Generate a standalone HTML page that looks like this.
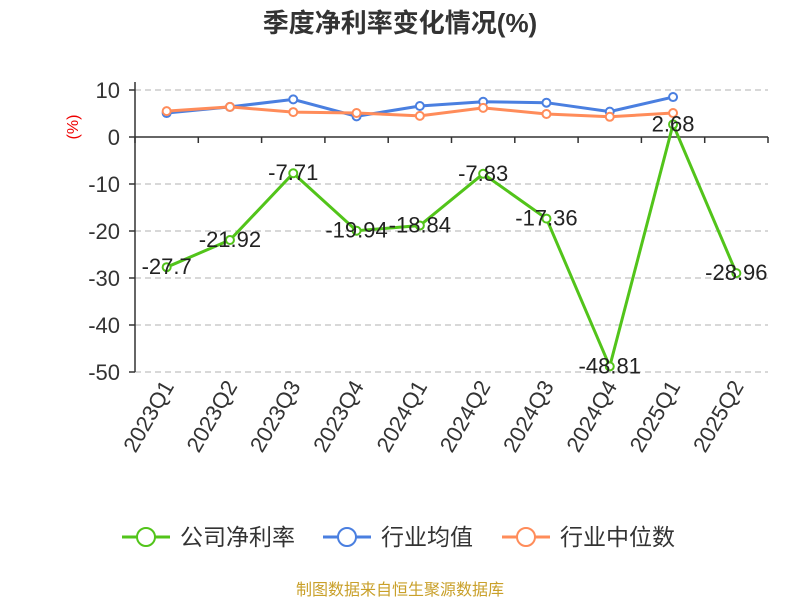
<!DOCTYPE html>
<html><head><meta charset="utf-8"><style>
body{margin:0;background:#fff;font-family:"Liberation Sans","Noto Sans CJK SC",sans-serif;}
</style></head><body>
<svg id="c" width="800" height="600" xmlns="http://www.w3.org/2000/svg" font-family="Liberation Sans, Noto Sans CJK SC, sans-serif">
<text x="400" y="32" text-anchor="middle" font-size="26" font-weight="bold" fill="#333">季度净利率变化情况(%)</text>
<text x="78" y="127" text-anchor="middle" font-size="16" fill="#e00" transform="rotate(-90 78 127)">(%)</text>
<g id="grid"></g><g id="series"></g>
<g>
<g><line x1="122" y1="537" x2="170" y2="537" stroke="#52c41a" stroke-width="3"/><circle cx="146" cy="537" r="9" fill="#fff" stroke="#52c41a" stroke-width="2"/><text x="180" y="545" font-size="23" fill="#333">公司净利率</text></g>
<g><line x1="323" y1="537" x2="371" y2="537" stroke="#4a7fe0" stroke-width="3"/><circle cx="347" cy="537" r="9" fill="#fff" stroke="#4a7fe0" stroke-width="2"/><text x="381" y="545" font-size="23" fill="#333">行业均值</text></g>
<g><line x1="502" y1="537" x2="550" y2="537" stroke="#ff8c5a" stroke-width="3"/><circle cx="526" cy="537" r="9" fill="#fff" stroke="#ff8c5a" stroke-width="2"/><text x="560" y="545" font-size="23" fill="#333">行业中位数</text></g>
</g>
<text x="400" y="595" text-anchor="middle" font-size="16" fill="#c9a02a">制图数据来自恒生聚源数据库</text>
</svg>
<script>
const categories=["2023Q1","2023Q2","2023Q3","2023Q4","2024Q1","2024Q2","2024Q3","2024Q4","2025Q1","2025Q2"];
const companyValues=[-27.7,-21.92,-7.71,-19.94,-18.84,-7.83,-17.36,-48.81,2.68,-28.96];
const avgValues=[5.1,6.4,8.0,4.4,6.6,7.5,7.3,5.4,8.5,null];
const medianValues=[5.5,6.4,5.3,5.1,4.5,6.2,4.9,4.3,5.1,null];
const yTicks=[10,0,-10,-20,-30,-40,-50];
const NS="http://www.w3.org/2000/svg";
const x0=135,x1=768,yTop=90,yBot=372,vMax=10,vMin=-50;
const bw=(x1-x0)/categories.length;
const X=i=>x0+bw*(i+0.5);
const Y=v=>yTop+(vMax-v)/(vMax-vMin)*(yBot-yTop);
function mk(t,a,p){const e=document.createElementNS(NS,t);for(const k in a)e.setAttribute(k,a[k]);p.appendChild(e);return e;}
const g=document.getElementById('grid');
yTicks.forEach(v=>{
 if(v!==0){const l=mk('line',{x1:x0,x2:x1,y1:Y(v),y2:Y(v),stroke:'#ccc','stroke-dasharray':'6,4','stroke-width':1.5},g);
 
 }
 const t=mk('text',{x:x0-15,y:Y(v)+8,'text-anchor':'end','font-size':22,fill:'#333'},g);t.textContent=v;
 
 
 mk('line',{x1:x0-6,x2:x0,y1:Y(v),y2:Y(v),stroke:'#333','stroke-width':1.5},g);
});
const ya=mk('line',{x1:x0,x2:x0,y1:yTop-8,y2:yBot,stroke:'#333','stroke-width':1.5},g);


const xa=mk('line',{x1:x0,x2:x1,y1:Y(0),y2:Y(0),stroke:'#333','stroke-width':1.5},g);


for(let i=0;i<=categories.length;i++)mk('line',{x1:x0+bw*i,x2:x0+bw*i,y1:Y(0),y2:Y(0)+6,stroke:'#333','stroke-width':1.5},g);
categories.forEach((c,i)=>{const t=mk('text',{x:X(i)+8,y:386,'text-anchor':'end','font-size':22,fill:'#333',transform:`rotate(-60 ${X(i)+8} 386)`},g);t.textContent=c;
 
 });
const s=document.getElementById('series');
function draw(vals,color,name,labels){
 const pts=vals.map((v,i)=>v==null?null:[X(i),Y(v)]).filter(p=>p);
 const pl=mk('polyline',{points:pts.map(p=>p.join(',')).join(' '),fill:'none',stroke:color,'stroke-width':3},s);
 
 
 vals.forEach((v,i)=>{if(v==null)return;
  const c=mk('circle',{cx:X(i),cy:Y(v),r:4,fill:'#fff',stroke:color,'stroke-width':2},s);
  
  
  if(labels){const t=mk('text',{x:X(i),y:Y(v)+7,'text-anchor':'middle','font-size':22,fill:'#222'},s);t.textContent=v;
   
   }
 });
}
draw(avgValues,'#4a7fe0','industry-avg',false);
draw(medianValues,'#ff8c5a','industry-median',false);
draw(companyValues,'#52c41a','company-net-margin',true);
</script>
</body></html>
